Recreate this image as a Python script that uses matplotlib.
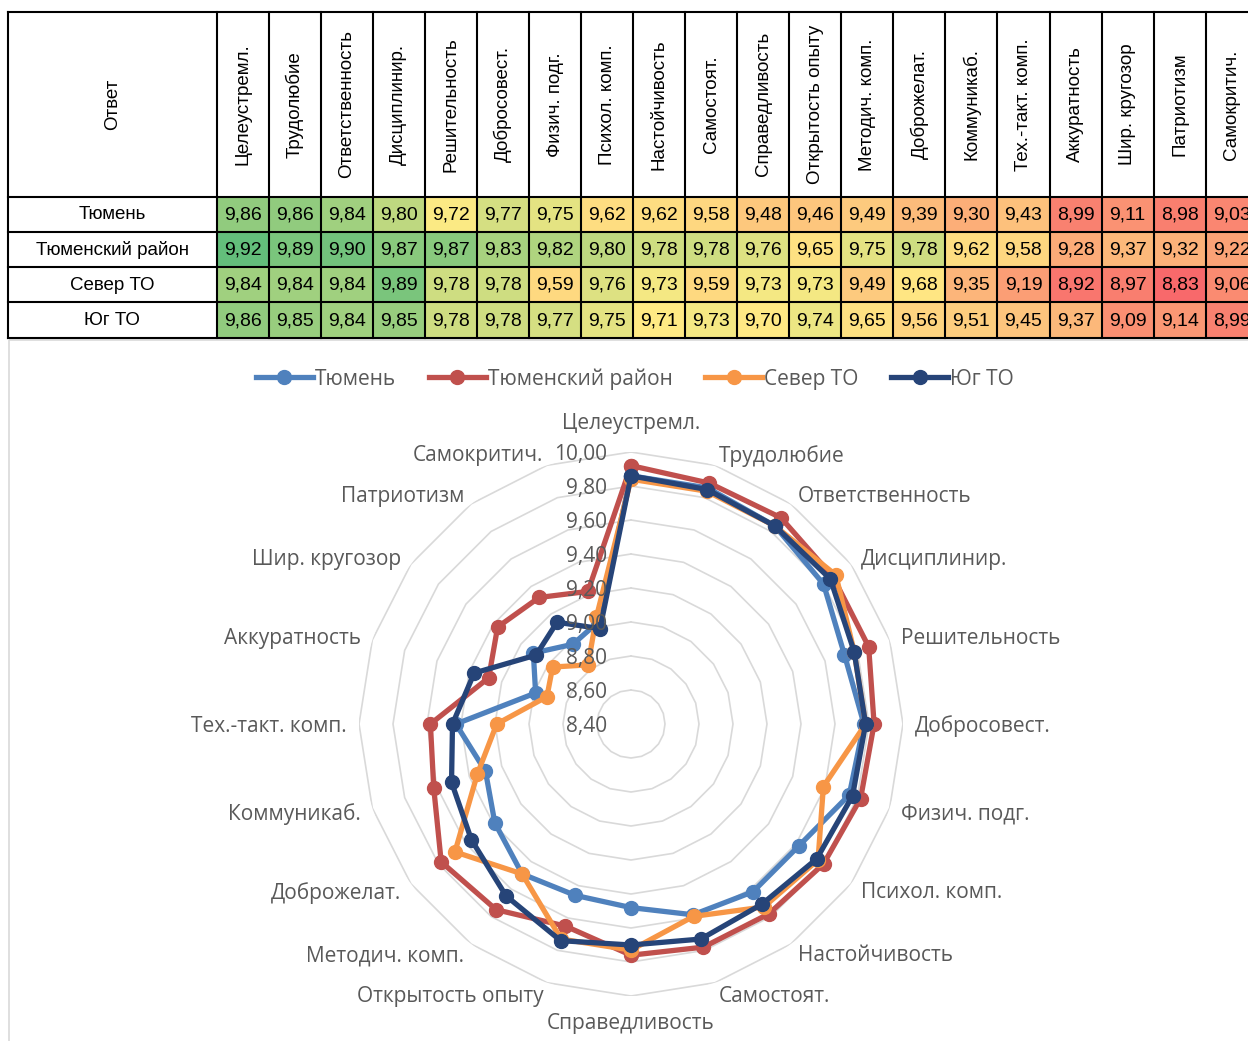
import numpy as np
import matplotlib
matplotlib.use('Agg')
import matplotlib.pyplot as plt
from matplotlib.patches import Rectangle

# ---------------- data ----------------
categories = ["Целеустремл.", "Трудолюбие", "Ответственность", "Дисциплинир.",
              "Решительность", "Добросовест.", "Физич. подг.", "Психол. комп.",
              "Настойчивость", "Самостоят.", "Справедливость", "Открытость опыту",
              "Методич. комп.", "Доброжелат.", "Коммуникаб.", "Тех.-такт. комп.",
              "Аккуратность", "Шир. кругозор", "Патриотизм", "Самокритич."]
groups = ["Тюмень", "Тюменский район", "Север ТО", "Юг ТО"]

tyumen = [9.86, 9.86, 9.84, 9.80, 9.72, 9.77, 9.75, 9.62, 9.62, 9.58,
          9.48, 9.46, 9.49, 9.39, 9.30, 9.43, 8.99, 9.11, 8.98, 9.03]
tyumen_district = [9.92, 9.89, 9.90, 9.87, 9.87, 9.83, 9.82, 9.80, 9.78, 9.78,
                   9.76, 9.65, 9.75, 9.78, 9.62, 9.58, 9.28, 9.37, 9.32, 9.22]
north = [9.84, 9.84, 9.84, 9.89, 9.78, 9.78, 9.59, 9.76, 9.73, 9.59,
         9.73, 9.73, 9.49, 9.68, 9.35, 9.19, 8.92, 8.97, 8.83, 9.06]
south = [9.86, 9.85, 9.84, 9.85, 9.78, 9.78, 9.77, 9.75, 9.71, 9.73,
         9.70, 9.74, 9.65, 9.56, 9.51, 9.45, 9.37, 9.09, 9.14, 8.99]
radial_ticks = [8.40, 8.60, 8.80, 9.00, 9.20, 9.40, 9.60, 9.80, 10.00]
header_label = "Ответ"

series = [tyumen, tyumen_district, north, south]
colors = ['#4F81BD', '#C0504D', '#F79646', '#264478']

# ---------------- figure ----------------
W, H = 1248, 1041
fig = plt.figure(figsize=(W / 100, H / 100), dpi=100)
fig.patch.set_facecolor('white')

TABLE_FONT = ['Liberation Sans', 'DejaVu Sans']
CHART_FONT = ['Open Sans', 'DejaVu Sans']
GRAY = '#595959'
PT = 0.72  # points per pixel at 100 dpi

# ---------------- table ----------------
ax_t = fig.add_axes([0, 0, 1, 1])
ax_t.set_xlim(0, W)
ax_t.set_ylim(H, 0)
ax_t.axis('off')

x0, xc, cw = 8.0, 216.7, 52.05
y0, yh, rh = 12.0, 196.7, 35.25

allv = np.array(series).ravel()
vmin, vmid, vmax = allv.min(), np.percentile(allv, 50), allv.max()
c_red = np.array([248, 105, 107]) / 255
c_yel = np.array([255, 235, 132]) / 255
c_grn = np.array([99, 190, 123]) / 255


def cell_color(v):
    if v <= vmid:
        t = (v - vmin) / (vmid - vmin)
        return c_red + (c_yel - c_red) * t
    t = (v - vmid) / (vmax - vmid)
    return c_yel + (c_grn - c_yel) * t


for i, (g, vals) in enumerate(zip(groups, series)):
    yt = yh + i * rh
    ax_t.text((x0 + xc) / 2, yt + rh / 2 + 0.5, g, ha='center', va='center',
              fontsize=13.5, family=TABLE_FONT, color='black')
    for j, v in enumerate(vals):
        xl = xc + j * cw
        ax_t.add_patch(Rectangle((xl, yt), cw, rh, facecolor=cell_color(v),
                                 edgecolor='none', zorder=1))
        ax_t.text(xl + cw / 2, yt + rh / 2 + 0.5, f"{v:.2f}".replace('.', ','),
                  ha='center', va='center', fontsize=14, family=TABLE_FONT,
                  color='black', zorder=3)

ax_t.text((x0 + xc) / 2, (y0 + yh) / 2, header_label, rotation=90,
          ha='center', va='center', fontsize=13.5, family=TABLE_FONT)
for j, c in enumerate(categories):
    ax_t.text(xc + j * cw + cw / 2, (y0 + yh) / 2, c, rotation=90,
              ha='center', va='center', fontsize=13.5, family=TABLE_FONT)

ybot = yh + len(groups) * rh
lw_t = 1.5
ax_t.plot([x0, x0], [y0, ybot], color='black', lw=lw_t, zorder=4)
for j in range(len(categories) + 1):
    xl = xc + j * cw
    ax_t.plot([xl, xl], [y0, ybot], color='black', lw=lw_t, zorder=4)
for yl in [y0, yh] + [yh + i * rh for i in range(1, len(groups) + 1)]:
    ax_t.plot([x0, W + 20], [yl, yl], color='black', lw=lw_t, zorder=4)

# chart area border
ax_t.add_patch(Rectangle((8.5, 339.5), 3000, 3000, fill=False,
                         edgecolor='#D9D9D9', lw=1.2, zorder=2))

# ---------------- radar ----------------
cx, cy, R = 631, 724, 272
ax = fig.add_axes([(cx - R) / W, (H - cy - R) / H, 2 * R / W, 2 * R / H],
                  projection='polar')
ax.set_facecolor('none')
ax.set_theta_offset(np.pi / 2)
ax.set_theta_direction(-1)
ax.set_ylim(radial_ticks[0], radial_ticks[-1])
ax.grid(False)
ax.set_xticks([])
ax.set_yticks([])
ax.spines['polar'].set_visible(False)

n = len(categories)
theta = np.arange(n) * 2 * np.pi / n
theta_c = np.append(theta, theta[0])

for lvl in radial_ticks[1:]:
    ax.plot(theta_c, [lvl] * (n + 1), color='#D9D9D9', lw=1.2, zorder=1)

handles = []
for g, vals, col in zip(groups, series, colors):
    vv = np.append(vals, vals[0])
    ln, = ax.plot(theta_c, vv, color=col, lw=3.8, marker='o', ms=10,
                  zorder=3, clip_on=False)
    handles.append(ln)

FS = 15
for lvl in radial_ticks:
    ax.annotate(f"{lvl:.2f}".replace('.', ','), xy=(0, lvl),
                xytext=(-24 * PT, -2.5 * PT),
                textcoords='offset points', ha='right', va='center',
                fontsize=FS, family=CHART_FONT, color=GRAY, zorder=5,
                annotation_clip=False)

for th, cat in zip(theta, categories):
    s, c = np.sin(th), np.cos(th)
    if abs(s) < 1e-6:
        ha = 'center'
        dx, dy = 0, 28 * c * PT
    else:
        ha = 'left' if s > 0 else 'right'
        dx, dy = 12 * s * PT, (12 * c - 2) * PT
    ax.annotate(cat, xy=(th, radial_ticks[-1]), xytext=(dx, dy),
                textcoords='offset points', ha=ha, va='center', fontsize=FS,
                family=CHART_FONT, color=GRAY, annotation_clip=False)

leg = fig.legend(handles, groups, loc='center', bbox_to_anchor=(635 / W, 1 - 379 / H),
                 ncol=4, frameon=False, handlelength=2.75, handletextpad=0.1,
                 columnspacing=1.55, prop={'family': CHART_FONT, 'size': FS})
for t in leg.get_texts():
    t.set_color(GRAY)

fig.savefig('out.png', dpi=100, facecolor='white')
